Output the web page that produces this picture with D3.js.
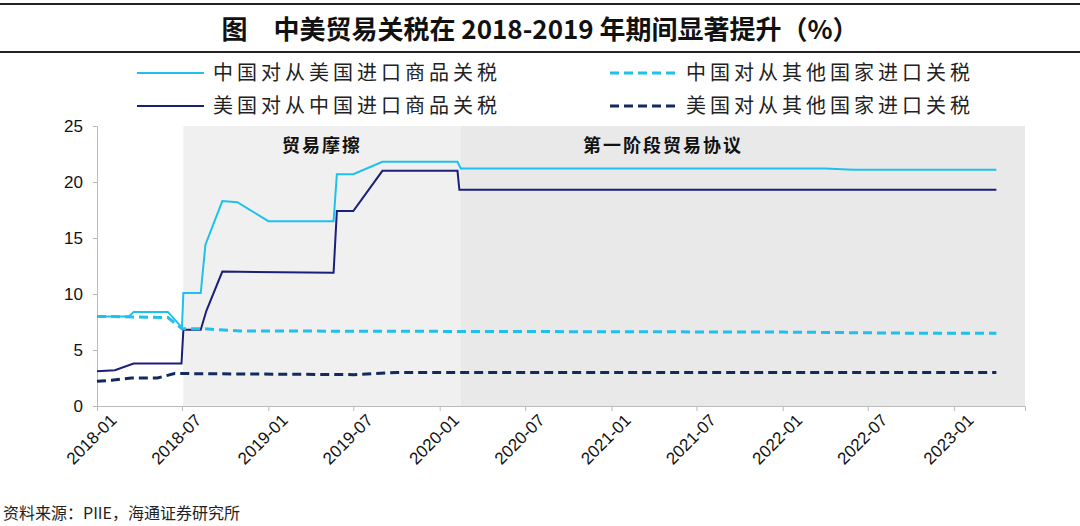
<!DOCTYPE html>
<html><head><meta charset="utf-8">
<script src="https://cdn.jsdelivr.net/npm/d3@7"></script>
<style>
body { margin: 0; background: #fff; }
text { font-family: "Noto Sans CJK SC", "Liberation Sans", sans-serif; }
</style></head>
<body><svg id="chart"></svg>
<script>
// Tariff series: [date, %]
const chinaOnUS = [
  ['2018-01-01', 8.0], ['2018-03-10', 8.0], ['2018-03-20', 8.4], ['2018-06-01', 8.4],
  ['2018-07-01', 7.0], ['2018-07-04', 10.1], ['2018-08-10', 10.1], ['2018-08-20', 14.4],
  ['2018-09-25', 18.3], ['2018-10-27', 18.2], ['2019-01-01', 16.5], ['2019-05-20', 16.5],
  ['2019-05-27', 20.7], ['2019-07-01', 20.7], ['2019-09-01', 21.8], ['2020-02-08', 21.8],
  ['2020-02-15', 21.2], ['2022-04-01', 21.2], ['2022-06-01', 21.1], ['2023-04-01', 21.1]
];
const usOnChina = [
  ['2018-01-01', 3.1], ['2018-02-08', 3.2], ['2018-03-20', 3.8], ['2018-06-30', 3.8],
  ['2018-07-04', 6.8], ['2018-08-10', 6.8], ['2018-08-22', 8.5], ['2018-09-25', 12.0],
  ['2019-05-20', 11.9], ['2019-05-27', 17.4], ['2019-07-01', 17.4], ['2019-09-01', 21.0],
  ['2020-02-08', 21.0], ['2020-02-12', 19.3], ['2023-04-01', 19.3]
];
const chinaOnOthers = [
  ['2018-01-01', 8.0], ['2018-06-01', 7.9], ['2018-07-01', 6.9], ['2018-08-15', 6.9],
  ['2018-11-01', 6.7], ['2022-01-01', 6.6], ['2022-10-01', 6.5], ['2023-04-01', 6.5]
];
const usOnOthers = [
  ['2018-01-01', 2.2], ['2018-02-01', 2.3], ['2018-03-15', 2.5], ['2018-05-10', 2.5],
  ['2018-06-15', 2.9], ['2019-07-01', 2.8], ['2019-10-01', 3.0], ['2023-04-01', 3.0]
];
const periods = [
  { name: '贸易摩擦', start: '2018-07-04', end: '2020-02-15', fill: '#f0f0f0' },
  { name: '第一阶段贸易协议', start: '2020-02-15', end: '2023-06-01', fill: '#e9e9e9' }
];
const yTicks = [0, 5, 10, 15, 20, 25];
const seriesInfo = [
  { name: '中国对从美国进口商品关税', data: chinaOnUS, color: '#1fc0ee', dash: null },
  { name: '美国对从中国进口商品关税', data: usOnChina, color: '#1a1f78', dash: null },
  { name: '中国对从其他国家进口关税', data: chinaOnOthers, color: '#1fc0ee', dash: '9,5' },
  { name: '美国对从其他国家进口关税', data: usOnOthers, color: '#132a5e', dash: '9,5' }
];

const width = 1080, height = 526;
const parse = d3.timeParse('%Y-%m-%d');
const svg = d3.select('#chart').attr('width', width).attr('height', height);

// Title bar
svg.append('line').attr('x1', 0).attr('x2', width).attr('y1', 4).attr('y2', 4)
  .style('stroke', '#222').style('stroke-width', 2);
svg.append('line').attr('x1', 0).attr('x2', width).attr('y1', 52).attr('y2', 52)
  .style('stroke', '#222').style('stroke-width', 2);
svg.append('text').attr('x', 540).attr('y', 39).attr('text-anchor', 'middle')
  .style('font-size', '26px').style('font-weight', 'bold').style('fill', '#111')
  .text('图　中美贸易关税在 2018-2019 年期间显著提升（%）');

const x = d3.scaleTime()
  .domain([parse('2018-01-01'), parse('2023-06-01')])
  .range([97, 1025]);
const y = d3.scaleLinear().domain([0, 25]).range([406, 126]);

// Shaded periods
periods.forEach(p => {
  svg.append('rect')
    .attr('x', x(parse(p.start))).attr('y', y(25))
    .attr('width', x(parse(p.end)) - x(parse(p.start)))
    .attr('height', y(0) - y(25))
    .style('fill', p.fill);
  svg.append('text')
    .attr('x', (x(parse(p.start)) + x(parse(p.end))) / 2 - (p.name.length > 4 ? 80 : 0))
    .attr('y', 152).attr('text-anchor', 'middle')
    .style('font-size', '18px').style('font-weight', 'bold').style('fill', '#111')
    .style('letter-spacing', '2px')
    .text(p.name);
});

// Axes
const yAxis = svg.append('g').attr('transform', 'translate(97,0)')
  .call(d3.axisLeft(y).tickValues(yTicks).tickSize(4).tickPadding(10));
yAxis.selectAll('text').style('font-size', '17px').style('fill', '#111')
  .style('font-family', 'Liberation Sans, sans-serif');
yAxis.selectAll('line, path').style('stroke', '#bbb');

const xTicks = d3.timeMonth.every(6).range(parse('2018-01-01'), parse('2023-02-01'));
const xAxis = svg.append('g').attr('transform', 'translate(0,406)')
  .call(d3.axisBottom(x).tickValues(xTicks).tickFormat(d3.timeFormat('%Y-%m')).tickSize(5));
xAxis.selectAll('line, path').style('stroke', '#bbb');
xAxis.selectAll('text')
  .style('font-size', '17px').style('fill', '#111')
  .style('font-family', 'Liberation Sans, sans-serif')
  .attr('text-anchor', 'end').attr('dx', '0.2em').attr('dy', '1em')
  .attr('transform', 'rotate(-45)');

// Lines
const line = d3.line().x(d => x(parse(d[0]))).y(d => y(d[1]));
seriesInfo.forEach(s => {
  svg.append('path').datum(s.data).attr('d', line)
    .style('fill', 'none').style('stroke', s.color)
    .style('stroke-width', s.dash ? 3 : 2)
    .style('stroke-dasharray', s.dash);
});

// Legend
seriesInfo.forEach((s, i) => {
  const lx = i < 2 ? 137 : 610, ly = 73 + (i % 2) * 33;
  svg.append('line').attr('x1', lx).attr('x2', lx + 67).attr('y1', ly).attr('y2', ly)
    .style('stroke', s.color).style('stroke-width', s.dash ? 3 : 2)
    .style('stroke-dasharray', s.dash);
  svg.append('text').attr('x', lx + 76).attr('y', ly + 7)
    .style('font-size', '20px').style('fill', '#222').style('letter-spacing', '4px')
    .text(s.name);
});

// Source
svg.append('text').attr('x', 3).attr('y', 519)
  .style('font-size', '16px').style('fill', '#222')
  .text('资料来源：PIIE，海通证券研究所');
</script></body></html>
